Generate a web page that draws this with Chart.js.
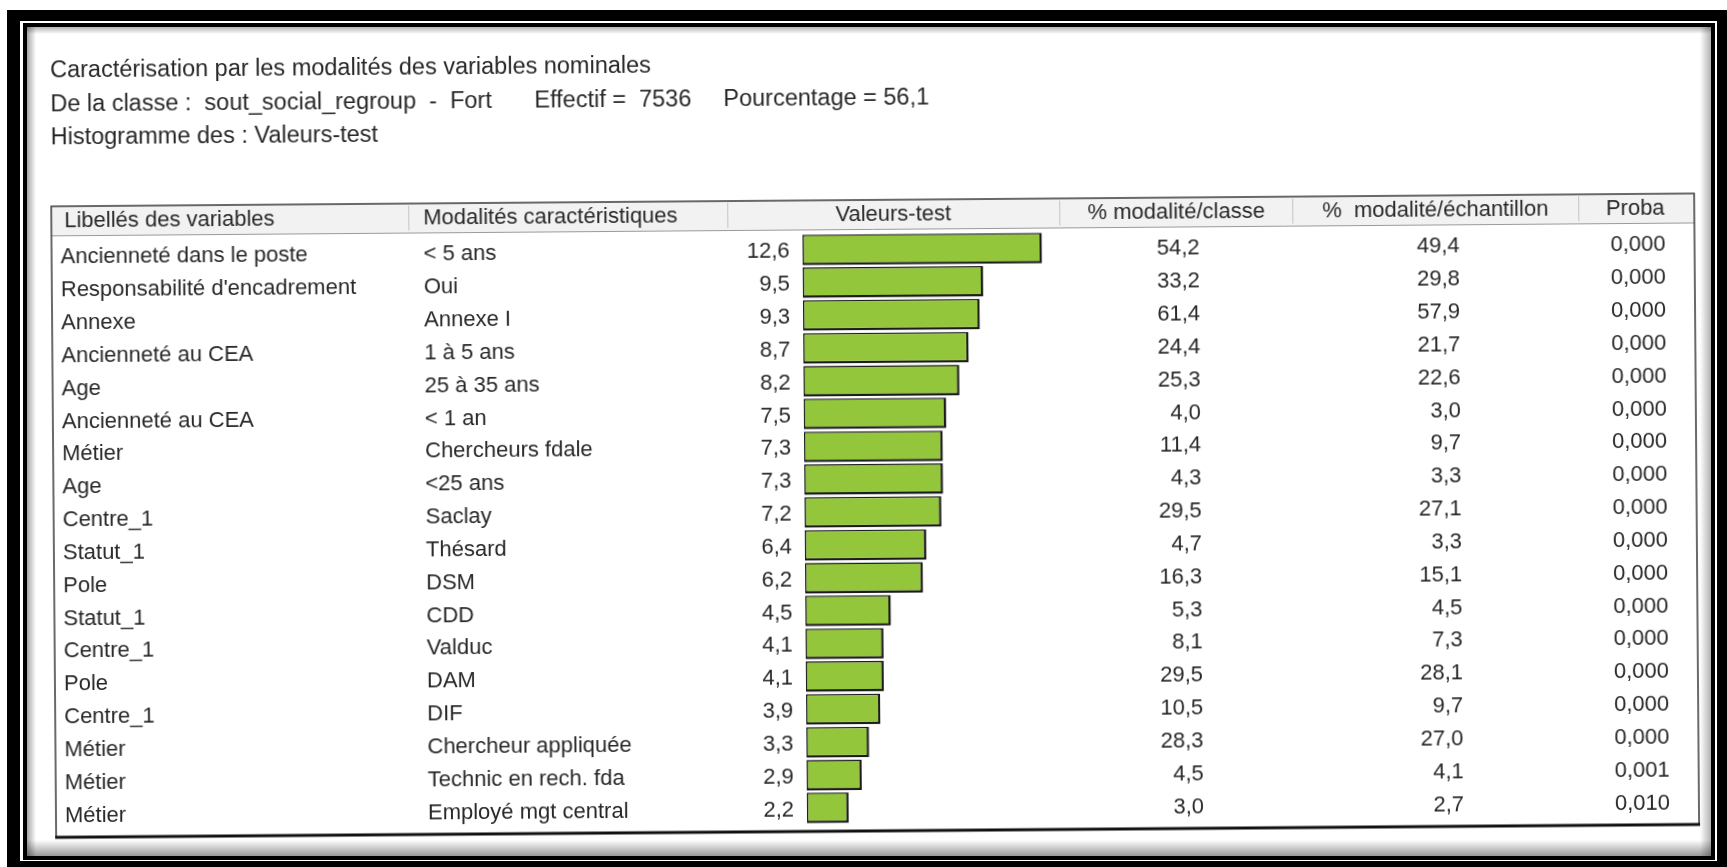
<!DOCTYPE html>
<html lang="fr">
<head>
<meta charset="utf-8">
<title>Caractérisation par les modalités des variables nominales</title>
<script src="https://cdn.jsdelivr.net/npm/chart.js@4.4.1/dist/chart.umd.min.js"></script>
<style>
  html, body { margin: 0; padding: 0; background: #fff; overflow: hidden; }
  #page { position: relative; width: 1727px; height: 867px; overflow: hidden; }
  #page canvas { position: absolute; left: 0; top: 0; }
  /* la capture d'origine est légèrement de travers */
  #vtChart { transform: rotate(-0.45deg); transform-origin: 863px 433px; }
</style>
</head>
<body>
<div id="page">
  <canvas id="cadre" width="1727" height="867"></canvas>
  <canvas id="vtChart" width="1727" height="867"></canvas>
</div>
<script>
// Données du tableau
const libelles = [
    'Ancienneté dans le poste', "Responsabilité d'encadrement", 'Annexe', 'Ancienneté au CEA',
    'Age', 'Ancienneté au CEA', 'Métier', 'Age', 'Centre_1', 'Statut_1', 'Pole', 'Statut_1',
    'Centre_1', 'Pole', 'Centre_1', 'Métier', 'Métier', 'Métier'
];
const modalites = [
    '< 5 ans', 'Oui', 'Annexe I', '1 à 5 ans', '25 à 35 ans', '< 1 an', 'Chercheurs fdale',
    '<25 ans', 'Saclay', 'Thésard', 'DSM', 'CDD', 'Valduc', 'DAM', 'DIF',
    'Chercheur appliquée', 'Technic en rech. fda', 'Employé mgt central'
];
const valeursTest = [12.6, 9.5, 9.3, 8.7, 8.2, 7.5, 7.3, 7.3, 7.2, 6.4, 6.2, 4.5, 4.1, 4.1, 3.9, 3.3, 2.9, 2.2];
const pctClasse = [54.2, 33.2, 61.4, 24.4, 25.3, 4.0, 11.4, 4.3, 29.5, 4.7, 16.3, 5.3, 8.1, 29.5, 10.5, 28.3, 4.5, 3.0];
const pctEchantillon = [49.4, 29.8, 57.9, 21.7, 22.6, 3.0, 9.7, 3.3, 27.1, 3.3, 15.1, 4.5, 7.3, 28.1, 9.7, 27.0, 4.1, 2.7];
const probas = [0, 0, 0, 0, 0, 0, 0, 0, 0, 0, 0, 0, 0, 0, 0, 0, 0.001, 0.010];

const enTetes = ['Libellés des variables', 'Modalités caractéristiques', 'Valeurs-test',
    '% modalité/classe', '%  modalité/échantillon', 'Proba'];
const titre1 = 'Caractérisation par les modalités des variables nominales';
const titre2 = ['De la classe :  sout_social_regroup  -  Fort', 'Effectif =  7536', 'Pourcentage = 56,1'];
const titre3 = 'Histogramme des : Valeurs-test';

const W = 1727, H = 867;
const FONT = '22px "Liberation Sans", Arial, sans-serif';
const FONT_TITRE = '23.5px "Liberation Sans", Arial, sans-serif';
const INK = '#282828';

// Format français
function fmt1(v) { return v.toFixed(1).replace('.', ','); }
function fmt3(v) { return v.toFixed(3).replace('.', ','); }

// Cadre noir de la capture (fond, pas de données)
function drawCadre() {
    const c = document.getElementById('cadre').getContext('2d');
    c.fillStyle = '#fff';
    c.fillRect(0, 0, W, H);
    c.fillStyle = '#000';
    c.fillRect(7, 10, W - 7, H - 10);
    c.fillStyle = '#fff';
    c.fillRect(20, 21, 1697, 840);
    c.fillStyle = '#000';
    c.fillRect(23, 23, 1692, 837);
    c.fillStyle = '#fff';
    c.fillRect(27, 27, 1684, 829);

    // ombre interne
    let g = c.createLinearGradient(0, 840, 0, 856);
    g.addColorStop(0, 'rgba(0,0,0,0)');
    g.addColorStop(1, 'rgba(0,0,0,0.4)');
    c.fillStyle = g;
    c.fillRect(27, 840, 1684, 16);
    g = c.createLinearGradient(27, 0, 36, 0);
    g.addColorStop(0, 'rgba(0,0,0,0.35)');
    g.addColorStop(1, 'rgba(0,0,0,0)');
    c.fillStyle = g;
    c.fillRect(27, 27, 9, 829);
    g = c.createLinearGradient(0, 27, 0, 34);
    g.addColorStop(0, 'rgba(0,0,0,0.3)');
    g.addColorStop(1, 'rgba(0,0,0,0)');
    c.fillStyle = g;
    c.fillRect(27, 27, 1684, 7);
    g = c.createLinearGradient(1711, 0, 1700, 0);
    g.addColorStop(0, 'rgba(0,0,0,0.3)');
    g.addColorStop(1, 'rgba(0,0,0,0)');
    c.fillStyle = g;
    c.fillRect(1700, 27, 11, 829);
}

// Tableau et textes autour de l'histogramme
const tablePlugin = {
    id: 'tableau',
    beforeDraw(chart) {
        const c = chart.ctx;
        c.save();
        const tL = 53, tR = 1696, tT = 200, hB = 229, tB = 831;
        c.fillStyle = '#fff';
        c.fillRect(tL, tT, tR - tL, tB - tT);
        c.fillStyle = '#f2f2f2';
        c.fillRect(tL, tT, tR - tL, hB - tT);
        c.strokeStyle = '#c4c4c4';
        c.lineWidth = 1;
        [410, 729, 1061, 1294, 1580].forEach(function(x) {
            c.beginPath();
            c.moveTo(x + 0.5, tT + 2);
            c.lineTo(x + 0.5, hB - 2);
            c.stroke();
        });
        c.strokeStyle = '#9a9a9a';
        c.beginPath();
        c.moveTo(tL, hB + 0.5);
        c.lineTo(tR, hB + 0.5);
        c.stroke();
        c.strokeStyle = '#3a3a3a';
        c.lineWidth = 1.5;
        c.beginPath();
        c.moveTo(tL, tB);
        c.lineTo(tL, tT);
        c.lineTo(tR, tT);
        c.lineTo(tR, tB);
        c.stroke();
        c.strokeStyle = '#111';
        c.lineWidth = 3;
        c.beginPath();
        c.moveTo(tL - 1, tB);
        c.lineTo(tR + 1, tB);
        c.stroke();

        // titres
        c.fillStyle = INK;
        c.textBaseline = 'middle';
        c.textAlign = 'left';
        c.font = FONT_TITRE;
        c.fillText(titre1, 53, 65);
        c.fillText(titre2[0], 53, 99);
        c.fillText(titre2[1], 537, 99);
        c.fillText(titre2[2], 726, 99);
        c.fillText(titre3, 53, 132);

        // en-têtes
        c.font = FONT;
        const hy = 215;
        c.fillText(enTetes[0], 66, hy);
        c.fillText(enTetes[1], 425, hy);
        c.textAlign = 'center';
        c.fillText(enTetes[2], 895, hy);
        c.fillText(enTetes[3], 1178, hy);
        c.fillText(enTetes[4], 1437, hy);
        c.fillText(enTetes[5], 1637, hy);
        c.restore();
    },
    afterDraw(chart) {
        const c = chart.ctx;
        const yScale = chart.scales.y;
        c.save();
        c.font = FONT;
        c.fillStyle = INK;
        c.textBaseline = 'middle';
        for (let i = 0; i < libelles.length; i++) {
            const y = yScale.getPixelForValue(i) + 2;
            c.textAlign = 'left';
            c.fillText(libelles[i], 62, y);
            c.fillText(modalites[i], 425, y);
            c.textAlign = 'right';
            c.fillText(fmt1(valeursTest[i]), 791, y);
            c.fillText(fmt1(pctClasse[i]), 1201, y);
            c.fillText(fmt1(pctEchantillon[i]), 1461, y);
            c.fillText(fmt3(probas[i]), 1667, y);
        }
        c.restore();
    }
};

// Histogramme des valeurs-test
function initChart() {
    const canvas = document.getElementById('vtChart');
    new Chart(canvas.getContext('2d'), {
        type: 'bar',
        data: {
            labels: modalites,
            datasets: [{
                label: 'Valeurs-test',
                data: valeursTest,
                backgroundColor: '#93c63a',
                borderColor: '#1c1c1c',
                borderWidth: { top: 1.5, left: 1.5, right: 2.5, bottom: 2.5 },
                borderSkipped: false,
                categoryPercentage: 1,
                barPercentage: 0.93
            }]
        },
        options: {
            indexAxis: 'y',
            responsive: false,
            animation: false,
            layout: { padding: { left: 804, right: 657, top: 233, bottom: 43 } },
            plugins: {
                legend: { display: false },
                tooltip: { enabled: false }
            },
            scales: {
                x: { display: false, min: 0, max: 14 },
                y: { display: false }
            }
        },
        plugins: [tablePlugin]
    });
}

drawCadre();
initChart();
</script>
</body>
</html>
